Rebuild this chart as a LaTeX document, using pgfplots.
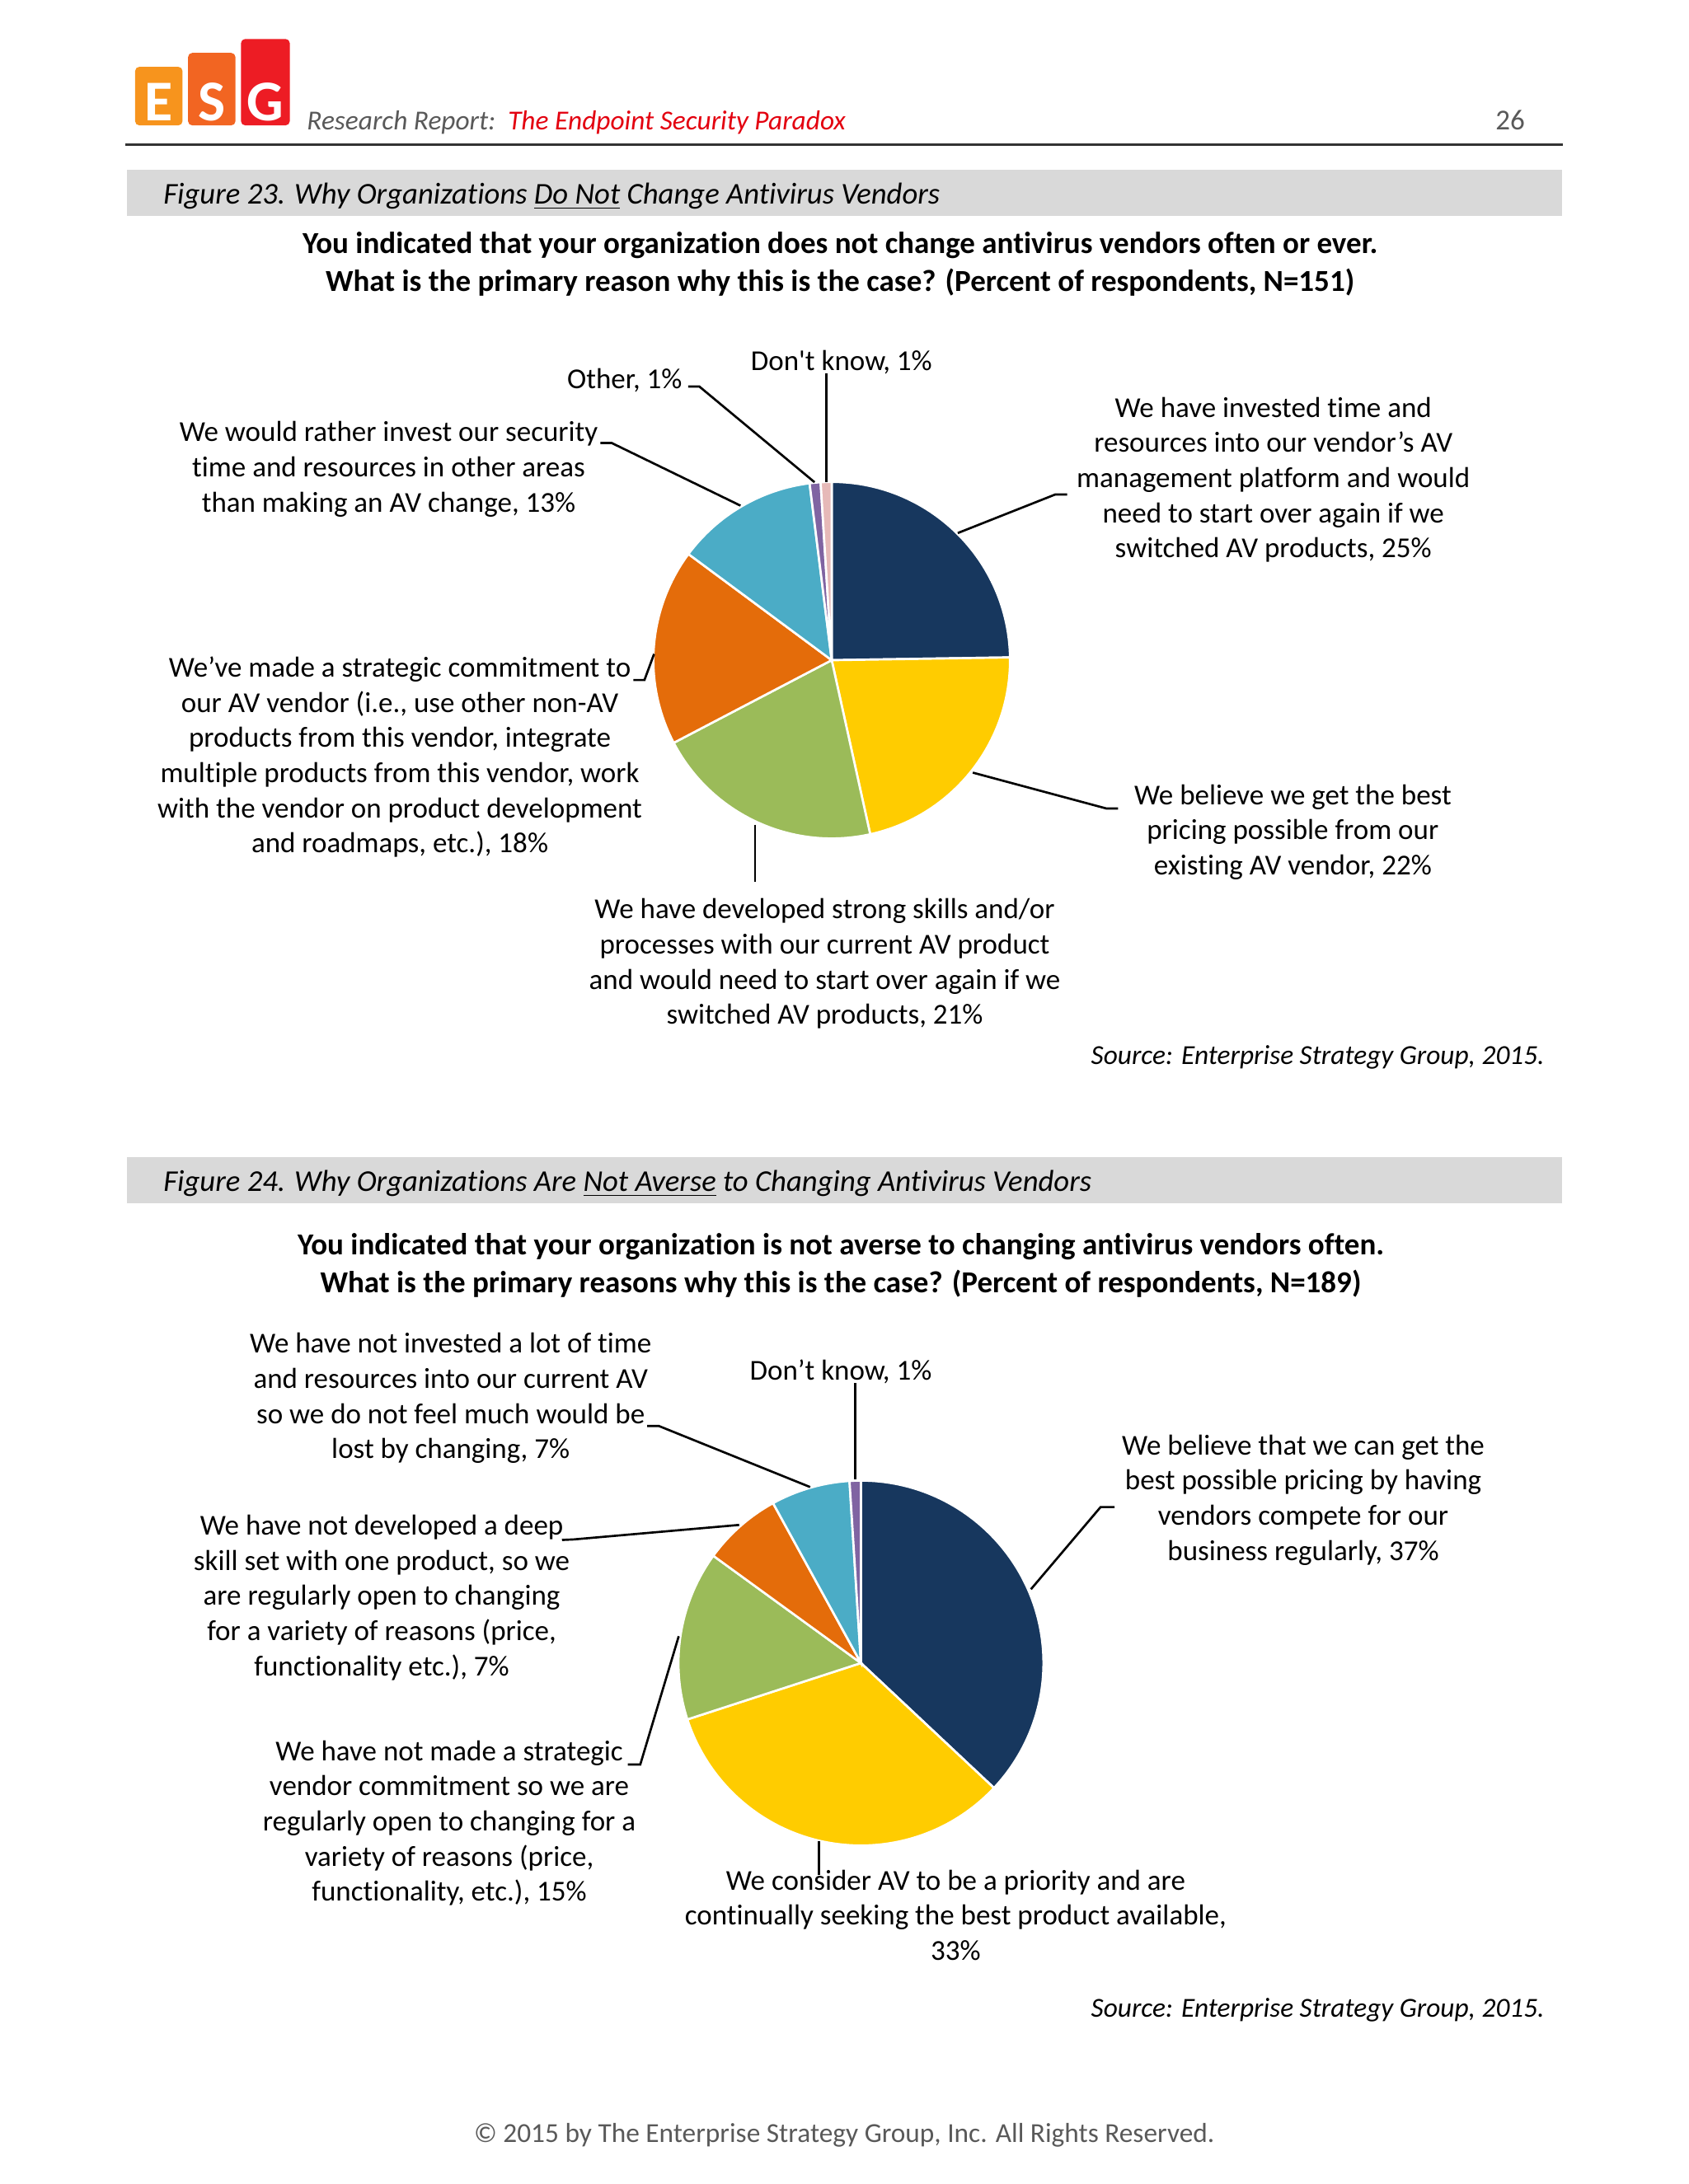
\documentclass[border=0pt]{standalone}
\usepackage{pgfplots}
\pgfplotsset{compat=1.18}
\usepackage{pgfplotstable}
\usepackage{fontspec}
\setmainfont{Carlito}[Ligatures={TeX,NoCommon}]

\definecolor{cNavy}{HTML}{17375E}
\definecolor{cYellow}{HTML}{FFCC00}
\definecolor{cGreen}{HTML}{9BBB59}
\definecolor{cOrange}{HTML}{E46C0A}
\definecolor{cBlue}{HTML}{4BACC6}
\definecolor{cPurple}{HTML}{8064A2}
\definecolor{cPink}{HTML}{E6B9B8}
\definecolor{barGray}{HTML}{D9D9D9}
\definecolor{txtGray}{HTML}{595959}
\definecolor{repRed}{HTML}{E3000F}
\definecolor{logoA}{HTML}{F7941D}
\definecolor{logoB}{HTML}{F26522}
\definecolor{logoC}{HTML}{ED1C24}

% Figure 23: why organizations do not change AV vendors (N=151)
\pgfplotstableread{
value color
25 cNavy
22 cYellow
21 cGreen
18 cOrange
13 cBlue
1  cPurple
1  cPink
}\pieA

% Figure 24: why organizations are not averse to changing (N=189)
\pgfplotstableread{
value color
37 cNavy
33 cYellow
15 cGreen
7  cOrange
7  cBlue
1  cPurple
}\pieB

\pgfplotsset{pieaxis/.style={hide axis,clip=false,anchor=center,
    xmin=-1.2,xmax=1.2,ymin=-1.2,ymax=1.2}}

% wedges clockwise from 12 o'clock, sized by share of the column total
\newcommand\drawpie[2]{%
  \pgfplotstablegetrowsof{#1}%
  \pgfmathtruncatemacro\pierows{\pgfplotsretval-1}%
  \def\pietotal{0}%
  \pgfplotsforeachungrouped \k in {0,...,\pierows}{%
    \pgfplotstablegetelem{\k}{value}\of{#1}%
    \pgfmathsetmacro\pietotal{\pietotal+\pgfplotsretval}}%
  \def\pieang{90}%
  \pgfplotsforeachungrouped \k in {0,...,\pierows}{%
    \pgfplotstablegetelem{\k}{value}\of{#1}\let\pieval\pgfplotsretval
    \pgfplotstablegetelem{\k}{color}\of{#1}\let\piecol\pgfplotsretval
    \pgfmathsetmacro\pieend{\pieang-360*\pieval/\pietotal}%
    \edef\temp{\noexpand\fill[\piecol,draw=white,line width=0.8pt]
      (axis cs:0,0) -- ++(\pieang:#2) arc[start angle=\pieang,end angle=\pieend,radius=#2] -- cycle;}%
    \temp
    \let\pieang\pieend}%
}

\begin{document}
\begin{tikzpicture}[x=0.50684pt,y=-0.50684pt,
  every node/.append style={yshift=-1pt},
  lbl/.style={align=center,inner sep=0pt,font=\fontsize{10.5}{12.8}\selectfont},
  lead/.style={black,line width=0.8pt}]
\path (0,0) rectangle (1212,1568);
% the axes pick up the node shift above, so their centres sit 2 units higher
\coordinate (pieAc) at (597,472);
\coordinate (pieBc) at (618,1192);

% header
\fill[logoA,rounded corners=1.5pt] (97,48) rectangle (131,90);
\fill[logoB,rounded corners=1.5pt] (135,38) rectangle (169,90);
\fill[logoC,rounded corners=1.5pt] (173,28) rectangle (208,90);
\begin{scope}[every node/.style={white,inner sep=0pt,font=\fontsize{21}{21}\selectfont\bfseries}]
\node at (114,73) {E};
\node at (152,73) {S};
\node at (190.5,73) {G};
\end{scope}
\node[anchor=base west,inner sep=0pt,font=\fontsize{10}{12}\selectfont\itshape] at (220,91)
  {\color{txtGray}Research Report:\ \ \color{repRed}The Endpoint Security Paradox};
\node[anchor=base east,inner sep=0pt,font=\fontsize{10.5}{13}\selectfont,txtGray] at (1095,91) {26};
\draw[black!80,line width=1pt] (90,104) -- (1122,104);

% figure 23 heading
\fill[barGray] (91,122) rectangle (1121,155);
\node[anchor=west,inner sep=0pt,font=\fontsize{11}{13}\selectfont\itshape] at (117,139)
  {Figure 23. Why Organizations \underline{Do Not} Change Antivirus Vendors};
\node[align=center,inner sep=0pt,font=\fontsize{11.1}{13.7}\selectfont\bfseries] at (603,187.5)
  {You indicated that your organization does not change antivirus vendors often or ever.\\
   What is the primary reason why this is the case? (Percent of respondents, N=151)};

\begin{axis}[pieaxis,x=64.88pt,y=64.88pt,at={(pieAc)}]
  \addplot[draw=none] coordinates {(0,0)};
  \drawpie{\pieA}{64.88pt}
\end{axis}

\node[lbl] at (604,258) {Don\textquotesingle t know, 1\%};
\node[lbl,anchor=east] at (490,271) {Other, 1\%};
\node[lbl] at (279,335) {We would rather invest our security\\time and resources in other areas\\than making an AV change, 13\%};
\node[lbl] at (914,342.5) {We have invested time and\\resources into our vendor’s AV\\management platform and would\\need to start over again if we\\switched AV products, 25\%};
\node[lbl] at (928,595.5) {We believe we get the best\\pricing possible from our\\existing AV vendor, 22\%};
\node[lbl] at (592,690) {We have developed strong skills and/or\\processes with our current AV product\\and would need to start over again if we\\switched AV products, 21\%};
\node[lbl] at (287,541.5) {We’ve made a strategic commitment to\\our AV vendor (i.e., use other non-AV\\products from this vendor, integrate\\multiple products from this vendor, work\\with the vendor on product development\\and roadmaps, etc.), 18\%};

\draw[lead] (593,268) -- (593,346);
\draw[lead] (494,277.5) -- (502,277.5) -- (584.7,346.2);
\draw[lead] (431,318) -- (439,318) -- (531.5,363);
\draw[lead] (766,355) -- (757.5,355) -- (687.5,382.7);
\draw[lead] (802.5,580.4) -- (794,580.4) -- (698.3,554.7);
\draw[lead] (542,592) -- (542,633);
\draw[lead] (454.7,488.2) -- (462.6,488.2) -- (469.5,469.5);

\node[anchor=east,inner sep=0pt,font=\fontsize{10}{12}\selectfont\itshape] at (1109,757)
  {Source: Enterprise Strategy Group, 2015.};

% figure 24 heading
\fill[barGray] (91,831) rectangle (1121,864);
\node[anchor=west,inner sep=0pt,font=\fontsize{11}{13}\selectfont\itshape] at (117,848)
  {Figure 24. Why Organizations Are \underline{Not Averse} to Changing Antivirus Vendors};
\node[align=center,inner sep=0pt,font=\fontsize{11.1}{13.7}\selectfont\bfseries] at (603.5,906.5)
  {You indicated that your organization is not averse to changing antivirus vendors often.\\
   What is the primary reasons why this is the case? (Percent of respondents, N=189)};

\begin{axis}[pieaxis,x=66.4pt,y=66.4pt,at={(pieBc)}]
  \addplot[draw=none] coordinates {(0,0)};
  \drawpie{\pieB}{66.4pt}
\end{axis}

\node[lbl] at (603.5,983) {Don’t know, 1\%};
\node[lbl] at (323.5,1002) {We have not invested a lot of time\\and resources into our current AV\\so we do not feel much would be\\lost by changing, 7\%};
\node[lbl] at (935.5,1075) {We believe that we can get the\\best possible pricing by having\\vendors compete for our\\business regularly, 37\%};
\node[lbl] at (274,1145) {We have not developed a deep\\skill set with one product, so we\\are regularly open to changing\\for a variety of reasons (price,\\functionality etc.), 7\%};
\node[lbl] at (322.5,1307) {We have not made a strategic\\vendor commitment so we are\\regularly open to changing for a\\variety of reasons (price,\\functionality, etc.), 15\%};
\node[lbl] at (686,1373) {We consider AV to be a priority and are\\continually seeking the best product available,\\33\%};

\draw[lead] (614,993) -- (614,1062);
\draw[lead] (464.5,1023.8) -- (473,1023.8) -- (581.5,1067.6);
\draw[lead] (403.4,1105.6) -- (412,1105.2) -- (530.6,1094.8);
\draw[lead] (450.7,1266.8) -- (459.6,1266.8) -- (487.2,1174.7);
\draw[lead] (800,1082) -- (790,1082) -- (740,1141);
\draw[lead] (588,1322) -- (588,1346);

\node[anchor=east,inner sep=0pt,font=\fontsize{10}{12}\selectfont\itshape] at (1109,1441)
  {Source: Enterprise Strategy Group, 2015.};

% footer
\node[inner sep=0pt,font=\fontsize{10}{12}\selectfont,txtGray] at (606,1531)
  {© 2015 by The Enterprise Strategy Group, Inc. All Rights Reserved.};
\end{tikzpicture}
\end{document}
